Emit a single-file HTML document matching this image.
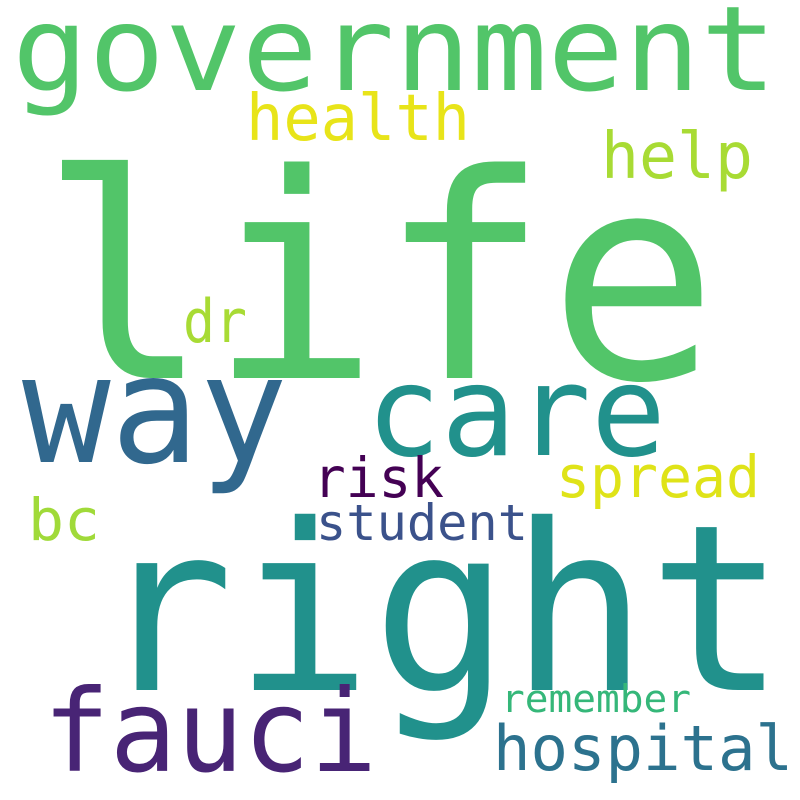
<!DOCTYPE html>
<html><head><meta charset="utf-8">
<style>
html,body{margin:0;padding:0;background:#fff;}
svg{display:block;}
text{font-family:"DejaVu Sans Mono","Liberation Mono",monospace;}
</style></head>
<body>
<svg width="800" height="800" viewBox="0 0 800 800">
<rect width="800" height="800" fill="#fff"/>
<text x="12" y="90" font-size="118" fill="#52c569" textLength="765" lengthAdjust="spacingAndGlyphs">government</text>
<text x="40" y="378" font-size="285" fill="#52c569" textLength="678" lengthAdjust="spacingAndGlyphs">life</text>
<text x="22" y="462" font-size="150" fill="#31688e" textLength="266" lengthAdjust="spacingAndGlyphs">way</text>
<text x="366" y="455" font-size="126" fill="#21918c" textLength="300" lengthAdjust="spacingAndGlyphs">care</text>
<text x="96" y="690" font-size="232" fill="#21918c" textLength="690" lengthAdjust="spacingAndGlyphs">right</text>
<text x="43" y="771" font-size="114" fill="#482475" textLength="334" lengthAdjust="spacingAndGlyphs">fauci</text>
<text x="493" y="770" font-size="62" fill="#2c728e" textLength="300" lengthAdjust="spacingAndGlyphs">hospital</text>
<text x="246" y="140" font-size="64" fill="#e8e419" textLength="224" lengthAdjust="spacingAndGlyphs">health</text>
<text x="601" y="178" font-size="64" fill="#a8db34" textLength="152" lengthAdjust="spacingAndGlyphs">help</text>
<text x="183" y="342" font-size="60" fill="#a8db34" textLength="64" lengthAdjust="spacingAndGlyphs">dr</text>
<text x="313" y="497" font-size="55" fill="#440154" textLength="131" lengthAdjust="spacingAndGlyphs">risk</text>
<text x="556" y="497" font-size="58" fill="#dfe318" textLength="204" lengthAdjust="spacingAndGlyphs">spread</text>
<text x="28" y="540" font-size="58" fill="#a0da39" textLength="72" lengthAdjust="spacingAndGlyphs">bc</text>
<text x="316" y="540" font-size="50" fill="#3b528b" textLength="212" lengthAdjust="spacingAndGlyphs">student</text>
<text x="501" y="712" font-size="38" fill="#35b779" textLength="190" lengthAdjust="spacingAndGlyphs">remember</text>
</svg>
</body></html>
